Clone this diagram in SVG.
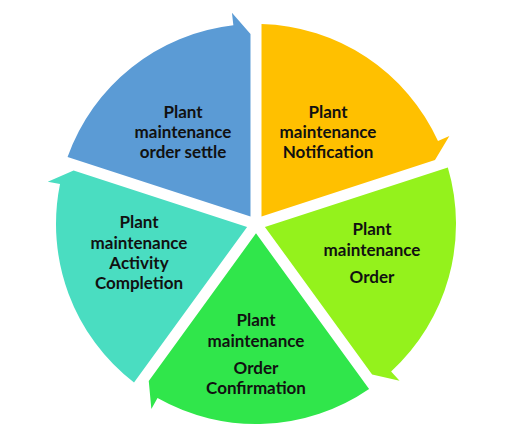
<svg xmlns="http://www.w3.org/2000/svg" width="513" height="431" viewBox="0 0 513 431">
<style>
  .lbl { font-family: Lato, "Liberation Sans", Arial, sans-serif; font-weight: bold; font-size: 17px; fill: #111111; text-anchor: middle; }
</style>
<rect width="513" height="431" fill="#ffffff"/>
<g id="connectors"></g>
<g id="node-settle">
  <path fill="#5B9BD5" d="M250.50,216.43 L67.56,156.98 A200,200 0 0 1 233.36,25.29 L231.94,12.86 L250.49,34.00 Z"/>
  <text class="lbl" x="183" y="118">Plant</text>
  <text class="lbl" x="183" y="138">maintenance</text>
  <text class="lbl" x="183" y="158">order settle</text>
</g>
<g id="node-notification">
  <path fill="#FFC000" d="M261.50,216.43 L261.51,24.08 A200,200 0 0 1 438.00,141.06 L449.38,135.88 L435.00,160.06 Z"/>
  <text class="lbl" x="328" y="118">Plant</text>
  <text class="lbl" x="328" y="138">maintenance</text>
  <text class="lbl" x="328" y="158">Notification</text>
</g>
<g id="node-order">
  <path fill="#94F21C" d="M264.90,226.89 L447.84,167.46 A200,200 0 0 1 391.12,371.46 L399.57,380.68 L372.14,374.47 Z"/>
  <text class="lbl" x="372" y="235">Plant</text>
  <text class="lbl" x="372" y="256">maintenance</text>
  <text class="lbl" x="372" y="283">Order</text>
</g>
<g id="node-confirmation">
  <path fill="#30E64B" d="M256,233.36 L369.08,388.96 A200,200 0 0 1 157.52,398.08 L151.36,408.96 L148.76,380.95 Z"/>
  <text class="lbl" x="256" y="326">Plant</text>
  <text class="lbl" x="256" y="347">maintenance</text>
  <text class="lbl" x="256" y="374">Order</text>
  <text class="lbl" x="256" y="394">Confirmation</text>
</g>
<g id="node-completion">
  <path fill="#4ADDC1" d="M247.10,226.89 L134.02,382.50 A200,200 0 0 1 60.02,184.12 L47.77,181.63 L73.60,170.55 Z"/>
  <text class="lbl" x="139" y="228">Plant</text>
  <text class="lbl" x="139" y="249">maintenance</text>
  <text class="lbl" x="139" y="269">Activity</text>
  <text class="lbl" x="139" y="289">Completion</text>
</g>
</svg>
